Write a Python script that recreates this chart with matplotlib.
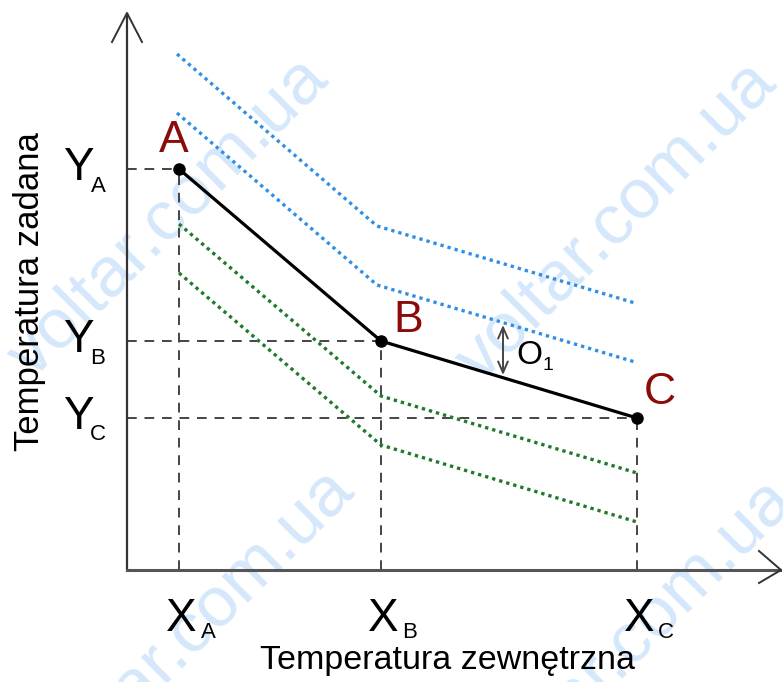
import numpy as np
import matplotlib.pyplot as plt

plt.rcParams['font.family'] = ['Liberation Sans', 'DejaVu Sans']

# ---------- dane (jednostki umowne, początek osi = 0,0) ----------
point_names = ['A', 'B', 'C']
x_pts = [52, 254, 510]          # XA, XB, XC
y_pts = [401, 229, 152]         # YA, YB, YC
blue_offsets = [115, 56]        # krzywe przesunięte w górę
green_offsets = [-55, -104]     # krzywe przesunięte w dół
x_label = 'Temperatura zewnętrzna'
y_label = 'Temperatura zadana'
watermark = 'voltar.com.ua'

# ---------- figura ----------
fig = plt.figure(figsize=(7.83, 6.82), dpi=100)
ax = fig.add_axes([0, 0, 1, 1])
ax.set_xlim(-127, 656)
ax.set_ylim(-112, 570)
ax.axis('off')

# znak wodny
wm_kw = dict(fontsize=51, color='#d5e8fb', rotation=45, ha='center', va='center',
             rotation_mode='anchor', zorder=0)
for cx, cy in [(42, 352), (490, 348), (68, -60), (508, -70)]:
    ax.text(cx, cy, watermark, **wm_kw)

# osie ze strzałkami
axis_c = '#333333'
ax.plot([0, 0], [0, 556], color=axis_c, lw=1.6, zorder=3)
ax.plot([0, 653], [0, 0], color='#555555', lw=2.2, zorder=3)
ax.plot([-15, 0, 15], [528, 557, 528], color=axis_c, lw=1.4, zorder=3)
ax.plot([632, 654, 632], [19, 0, -13], color=axis_c, lw=1.4, zorder=3)

# linie pomocnicze
dash_kw = dict(color='#444444', lw=1.4, ls=(0, (5, 4)), zorder=2)
for xv, yv in zip(x_pts, y_pts):
    ax.plot([0, xv], [yv, yv], **dash_kw)
    ax.plot([xv, xv], [0, yv], **dash_kw)

# krzywe równoległe
xp = np.array(x_pts, dtype=float)
yp = np.array(y_pts, dtype=float)
for off in blue_offsets:
    ax.plot(xp + [-2, -4, -2], yp + off, color='#2f8fe6', lw=2.4,
            ls=(0, (1, 1.2)), zorder=2)
for off in green_offsets:
    ax.plot(xp, yp + off, color='#1f7a2c', lw=2.4, ls=(0, (1, 1.2)), zorder=2)

# krzywa grzewcza
ax.plot(xp, yp, color='black', lw=2.3, marker='o', ms=8, zorder=4)

# etykiety punktów
for name, xv, yv, dx, dy in zip(point_names, x_pts, y_pts, [-5, 27, 23], [28, 20, 26]):
    ax.text(xv + dx, yv + dy, name, color='#8b0a0a', fontsize=32,
            ha='center', va='center', zorder=5)

# opisy osi X / Y
for name, xv in zip(point_names, x_pts):
    ax.text(xv + 2, -49, 'X', fontsize=33, ha='center', va='center')
    ax.text(xv + 29, -63, name, fontsize=16, ha='center', va='center')
for name, yv in zip(point_names, y_pts):
    ax.text(-49, yv + 1, 'Y', fontsize=33, ha='center', va='center')
    ax.text(-29, yv - 17, name, fontsize=16, ha='center', va='center')

ax.text(320, -91, x_label, fontsize=24.5, ha='center', va='center')
ax.text(-98, 278, y_label, fontsize=25, ha='center', va='center', rotation=90)

# przesunięcie O1
ax.annotate('', xy=(376, 245), xytext=(376, 195),
            arrowprops=dict(arrowstyle='<->,head_length=0.8,head_width=0.35',
                            color='#444444', lw=1.4, shrinkA=0, shrinkB=0))
ax.text(402, 215, 'O', fontsize=24, ha='center', va='center')
ax.text(421, 204, '1', fontsize=14, ha='center', va='center')

fig.savefig('out.png', dpi=100)
